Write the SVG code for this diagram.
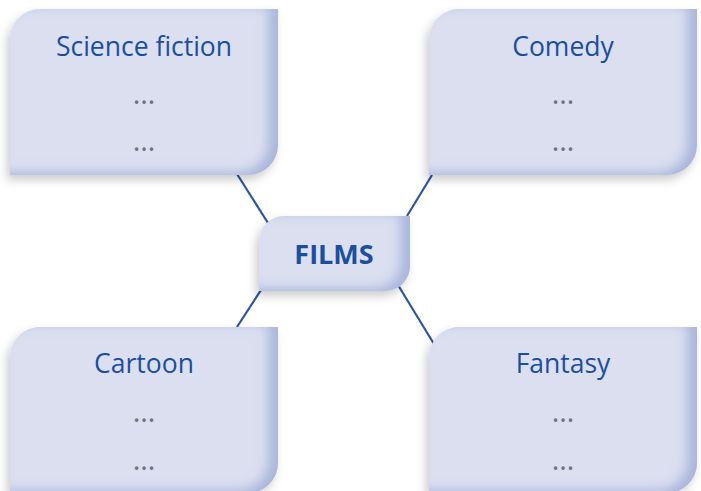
<svg xmlns="http://www.w3.org/2000/svg" width="701" height="491" viewBox="0 0 701 491">
<defs>
<filter id="boxfx" x="-20%" y="-25%" width="140%" height="150%">
 <feGaussianBlur in="SourceAlpha" stdDeviation="5" result="b"/>
 <feOffset in="b" dx="-3" dy="5" result="ob"/>
 <feFlood flood-color="#000" flood-opacity="0.2"/>
 <feComposite in2="ob" operator="in" result="drop"/>
 <feFlood flood-color="#a9b6dc" result="ic"/>
 <feComposite in="ic" in2="SourceAlpha" operator="out" result="inv"/>
 <feOffset in="inv" dx="-10" dy="-3" result="invo"/>
 <feGaussianBlur in="invo" stdDeviation="6" result="invb"/>
 <feComposite in="invb" in2="SourceAlpha" operator="in" result="inner"/>
 <feMerge><feMergeNode in="drop"/><feMergeNode in="SourceGraphic"/><feMergeNode in="inner"/></feMerge>
</filter>
</defs>
<style>
.box{fill:#dbdff0;filter:url(#boxfx)}
.title{font-family:"Open Sans","Noto Sans",sans-serif;font-size:26.5px;fill:#1b4f9e;text-anchor:middle}
.dots{font-family:"Open Sans",sans-serif;font-size:29px;fill:#707078;text-anchor:middle}
.main{font-family:"Open Sans","Noto Sans",sans-serif;font-size:27px;font-weight:bold;fill:#1b4f9e;text-anchor:middle}
.conn line{stroke:#2b56a2;stroke-width:2.2}
</style>
<rect width="701" height="491" fill="#fff"/>
<g id="connectors" class="conn">
 <line x1="237" y1="174" x2="268" y2="223"/>
 <line x1="432" y1="175" x2="407" y2="216"/>
 <line x1="261" y1="290" x2="237" y2="327"/>
 <line x1="398" y1="285" x2="434" y2="344"/>
</g>
<g id="science-fiction">
 <path class="box" d="M10,39 A30,30 0 0 1 40,9 H278 V145 A30,30 0 0 1 248,175 H10 Z"/>
 <text class="title" x="144" y="56">Science fiction</text>
 <text class="dots" x="144" y="104">…</text>
 <text class="dots" x="144" y="151">…</text>
</g>
<g id="comedy">
 <path class="box" d="M429,39 A30,30 0 0 1 459,9 H697 V145 A30,30 0 0 1 667,175 H429 Z"/>
 <text class="title" x="563" y="56">Comedy</text>
 <text class="dots" x="563" y="104">…</text>
 <text class="dots" x="563" y="151">…</text>
</g>
<g id="cartoon">
 <path class="box" d="M10,357 A30,30 0 0 1 40,327 H278 V463 A30,30 0 0 1 248,493 H10 Z"/>
 <text class="title" x="144" y="373">Cartoon</text>
 <text class="dots" x="144" y="422">…</text>
 <text class="dots" x="144" y="470">…</text>
</g>
<g id="fantasy">
 <path class="box" d="M429,357 A30,30 0 0 1 459,327 H697 V463 A30,30 0 0 1 667,493 H429 Z"/>
 <text class="title" x="563" y="373">Fantasy</text>
 <text class="dots" x="563" y="422">…</text>
 <text class="dots" x="563" y="470">…</text>
</g>
<g id="films">
 <path class="box" d="M259,241 A25,25 0 0 1 284,216 H410 V266 A25,25 0 0 1 385,291 H259 Z"/>
 <text class="main" x="334" y="264">FILMS</text>
</g>
</svg>
